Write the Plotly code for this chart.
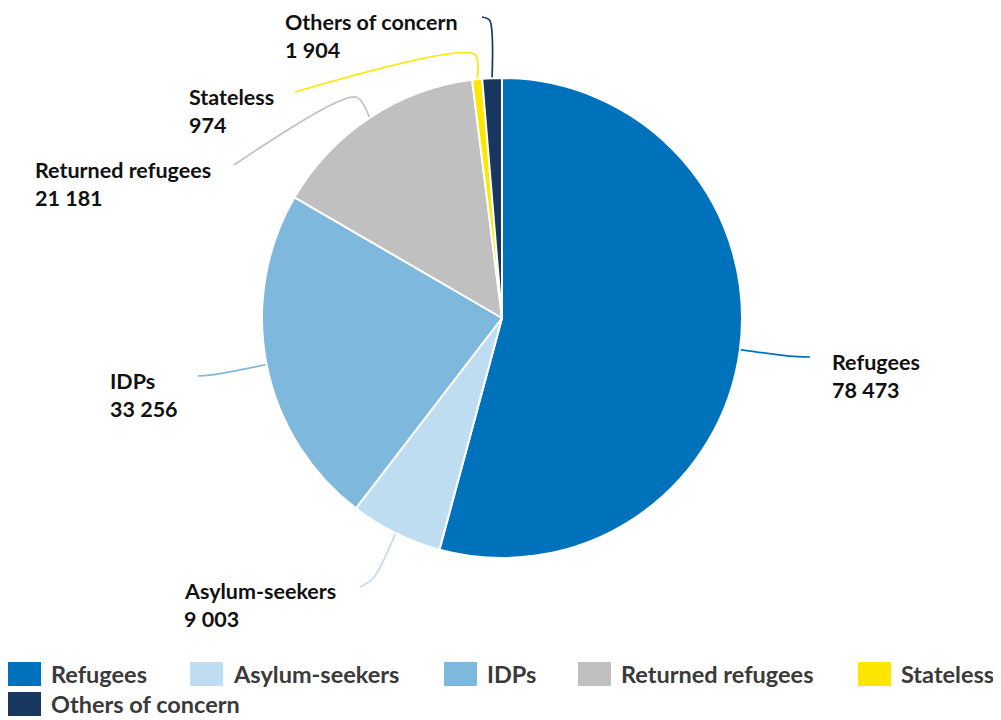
import math
import plotly.graph_objects as go

# ---- data ----
categories = ["Refugees", "Asylum-seekers", "IDPs", "Returned refugees", "Stateless", "Others of concern"]
values = [78473, 9003, 33256, 21181, 974, 1904]
value_labels = ["78 473", "9 003", "33 256", "21 181", "974", "1 904"]

# ---- style / layout ----
colors = ["#0072BC", "#BFDDF0", "#7FB8DD", "#C0C0C0", "#FFE600", "#18375F"]
PAGE_W, PAGE_H, OFF = 1001, 720, 8   # body margin offset in the page
W, H = PAGE_W - OFF, PAGE_H - OFF
CX, CY, R = 502, 318, 240
elbow_r = [290, 290, 290, 265, 265, 298]
line_end = [(810, 357), (360, 587), (198, 376), (234, 165), (295, 92), (482, 17)]
label_pos = [(830, 362), (182, 591), (108, 381), (33, 170), (187, 97), (283, 22)]
LINE_GAP = 28
legend_swatch_x = [8, 190, 444, 578, 858, 8]
legend_row = [0, 0, 0, 0, 0, 1]
LEG_Y0, LEG_DY = 674, 30
SW_W, SW_H = 33, 24
FONT = "Lato"

fig = go.Figure()
fig.add_trace(go.Pie(
    labels=categories, values=values, sort=False, direction="clockwise", rotation=0,
    marker=dict(colors=colors, line=dict(color="white", width=2)),
    textinfo="none", hoverinfo="label+value", showlegend=False,
    domain=dict(x=[(CX - R - OFF) / W, (CX + R - OFF) / W],
                y=[1 - (CY + R - OFF) / H, 1 - (CY - R - OFF) / H]),
))

total = sum(values)
cum = 0
annotations = []
shapes = []
for i, (cat, v) in enumerate(zip(categories, values)):
    mid = (cum + v / 2) / total * 2 * math.pi
    cum += v
    sx, sy = CX + R * math.sin(mid), CY - R * math.cos(mid)
    ex, ey = CX + elbow_r[i] * math.sin(mid), CY - elbow_r[i] * math.cos(mid)
    lx, ly = line_end[i]
    fig.add_trace(go.Scatter(
        x=[sx, ex, lx], y=[sy, ey, ly], mode="lines",
        line=dict(color=colors[i], width=1.7, shape="spline", smoothing=0.8),
        hoverinfo="skip", showlegend=False, xaxis="x", yaxis="y",
    ))
    tx, ty = label_pos[i]
    for j, t in enumerate([cat, value_labels[i]]):
        annotations.append(dict(
            x=tx, y=ty + j * LINE_GAP, xref="x", yref="y", text=t, showarrow=False,
            xanchor="left", yanchor="middle",
            font=dict(family=FONT, size=21.5, color="#111111", weight="bold"),
        ))
    # custom legend
    lxs = legend_swatch_x[i]
    lyc = LEG_Y0 + legend_row[i] * LEG_DY
    shapes.append(dict(type="rect", xref="x", yref="y", x0=lxs, x1=lxs + SW_W,
                       y0=lyc - SW_H / 2, y1=lyc + SW_H / 2,
                       fillcolor=colors[i], line=dict(width=0), layer="above"))
    annotations.append(dict(
        x=lxs + SW_W + 8, y=lyc, xref="x", yref="y", text=cat, showarrow=False,
        xanchor="left", yanchor="middle",
        font=dict(family=FONT, size=23.5, color="#3a3a3a", weight="bold"),
    ))

fig.update_layout(
    width=W, height=H, margin=dict(l=0, r=0, t=0, b=0),
    paper_bgcolor="white", plot_bgcolor="white",
    xaxis=dict(range=[OFF, PAGE_W], visible=False, fixedrange=True),
    yaxis=dict(range=[PAGE_H, OFF], visible=False, fixedrange=True),
    annotations=annotations, shapes=shapes, showlegend=False,
)

fig.write_html("out.html")
